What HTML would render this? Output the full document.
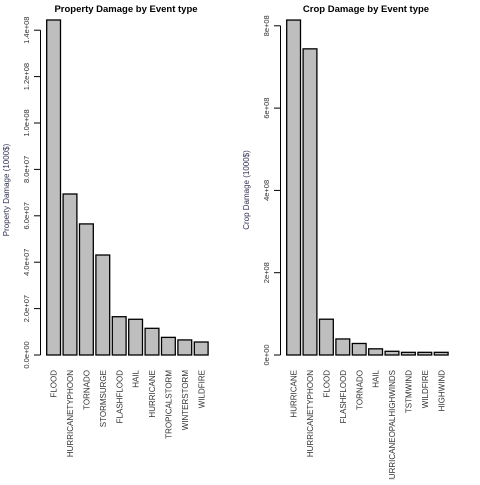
<!DOCTYPE html>
<html><head><meta charset="utf-8"><style>
body{margin:0;background:#fff}
svg text{font-family:"Liberation Sans",sans-serif}
</style></head><body>
<svg id="c" width="480" height="480" xmlns="http://www.w3.org/2000/svg"></svg>
<script>
const propCats=["FLOOD","HURRICANETYPHOON","TORNADO","STORMSURGE","FLASHFLOOD","HAIL","HURRICANE","TROPICALSTORM","WINTERSTORM","WILDFIRE"];
const propVals=[1.444e8,6.94e7,5.65e7,4.31e7,1.65e7,1.54e7,1.15e7,0.76e7,0.65e7,0.56e7];
const propTicks=[0,2e7,4e7,6e7,8e7,1e8,1.2e8,1.4e8];
const propTickLabels=["0.0e+00","2.0e+07","4.0e+07","6.0e+07","8.0e+07","1.0e+08","1.2e+08","1.4e+08"];
const cropCats=["HURRICANE","HURRICANETYPHOON","FLOOD","FLASHFLOOD","TORNADO","HAIL","HURRICANEOPALHIGHWINDS","TSTMWIND","WILDFIRE","HIGHWIND"];
const cropVals=[8.14e8,7.44e8,0.87e8,0.39e8,0.28e8,0.15e8,0.09e8,0.065e8,0.065e8,0.065e8];
const cropTicks=[0,2e8,4e8,6e8,8e8];
const cropTickLabels=["0e+00","2e+08","4e+08","6e+08","8e+08"];
const svg=document.getElementById('c');
const NS="http://www.w3.org/2000/svg";
function mk(t,a,txt){const e=document.createElementNS(NS,t);for(const k in a)e.setAttribute(k,a[k]);if(txt!==undefined)e.textContent=txt;svg.appendChild(e);return e;}
function panel(ox,cats,vals,ticks,tlabels,perUnit,unitPx,title,ylab,prefix){
  const y0=355;
  const yS=v=>y0-v/perUnit*unitPx;
  const xS=i=>ox+46.7+i*16.4;
  let e=mk('text',{x:ox+126,y:12,'font-size':'9.5','font-weight':'bold','text-anchor':'middle',fill:'#000'},title);
  
  
  e=mk('text',{transform:`translate(${ox+9},190) rotate(-90)`,'font-size':'8','text-anchor':'middle',fill:'#335'},ylab);
  
  
  const top=yS(ticks[ticks.length-1]);
  e=mk('line',{x1:ox+40.5,x2:ox+40.5,y1:y0,y2:top,stroke:'#000','stroke-width':1});
  
  
  ticks.forEach((t,i)=>{
    const y=yS(t);
    let l=mk('line',{x1:ox+34,x2:ox+40.5,y1:y,y2:y,stroke:'#000'});
    
    
    let tx=mk('text',{transform:`translate(${ox+29},${y}) rotate(-90)`,'font-size':'7.5','text-anchor':'middle',fill:'#333'},tlabels[i]);
    
    
  });
  cats.forEach((c,i)=>{
    const x=xS(i),y=yS(vals[i]);
    let r=mk('rect',{x:x,y:y,width:13.8,height:y0-y,fill:'#bebebe',stroke:'#000','stroke-width':1.3});
    
    
    let t=mk('text',{transform:`translate(${x+10},370) rotate(-90)`,'font-size':'8','text-anchor':'end',fill:'#333'},c);
    
    
  });
}
panel(0,propCats,propVals,propTicks,propTickLabels,2e7,46.4,"Property Damage by Event type","Property Damage (1000$)","property");
panel(240,cropCats,cropVals,cropTicks,cropTickLabels,2e8,82.3,"Crop Damage by Event type","Crop Damage (1000$)","crop");
</script>
</body></html>
